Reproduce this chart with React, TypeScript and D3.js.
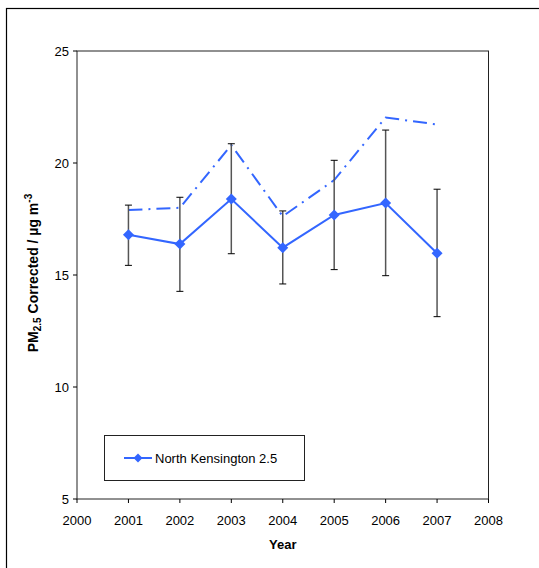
import React from "react";
import * as d3 from "d3";

const years = [2001, 2002, 2003, 2004, 2005, 2006, 2007];
const pm25 = [16.8, 16.38, 18.39, 16.22, 17.68, 18.21, 15.97];
const errHigh = [18.12, 18.47, 20.86, 17.86, 20.12, 21.47, 18.83];
const errLow = [15.43, 14.27, 15.95, 14.6, 15.24, 14.97, 13.14];
const dashed = [17.9, 18.0, 20.8, 17.62, 19.24, 22.03, 21.72];
const xTicks = [2000, 2001, 2002, 2003, 2004, 2005, 2006, 2007, 2008];
const yTicks = [5, 10, 15, 20, 25];
const seriesName = "North Kensington 2.5";

const W = 539;
const H = 568;
const left = 77;
const right = 488.5;
const top = 51;
const bottom = 499;
const blue = "#3366FF";
const font = "Liberation Sans, Arial, sans-serif";

function diamondPath(r: number) {
  const p = d3.path();
  p.moveTo(0, -r);
  p.lineTo(r, 0);
  p.lineTo(0, r);
  p.lineTo(-r, 0);
  p.closePath();
  return p.toString();
}

export default function App() {
  const x = d3.scaleLinear().domain([2000, 2008]).range([left, right]);
  const y = d3.scaleLinear().domain([5, 25]).range([bottom, top]);
  const line = d3
    .line<number>()
    .x((_, i) => x(years[i]))
    .y((d) => y(d));
  const diamond = diamondPath(5.5);

  return (
    <svg
      width={W}
      height={H}
      style={{ position: "absolute", left: 0, top: 0, fontFamily: font }}
    >
      <rect x={0} y={0} width={W} height={H} fill="#fff" />
      <rect x={6.5} y={8.5} width={W + 10} height={H + 10} fill="none" stroke="#000" strokeWidth={1.2} />
      <rect x={left} y={top} width={right - left} height={bottom - top} fill="none" stroke="#222" strokeWidth={1} />

      {/* y ticks */}
      {yTicks.map((t) => (
        <g key={"y" + t}>
          <line x1={left - 4} x2={left} y1={y(t)} y2={y(t)} stroke="#000" />
          <text x={left - 8} y={y(t)} dy="0.35em" textAnchor="end" fontSize={13}>
            {t}
          </text>
        </g>
      ))}
      {/* x ticks */}
      {xTicks.map((t) => (
        <g key={"x" + t}>
          <line x1={x(t)} x2={x(t)} y1={bottom} y2={bottom + 4} stroke="#000" />
          <text x={x(t)} y={bottom + 21} dy="0.35em" textAnchor="middle" fontSize={13}>
            {t}
          </text>
        </g>
      ))}

      <text x={(left + right) / 2} y={544} dy="0.35em" textAnchor="middle" fontSize={13} fontWeight="bold">
        Year
      </text>
      <text
        transform={`translate(33, ${(top + bottom) / 2 - 2}) rotate(-90)`}
        textAnchor="middle"
        dy="0.35em"
        fontSize={14}
        fontWeight="bold"
      >
        PM<tspan fontSize={10} dy="3">2.5</tspan>
        <tspan dy="-3"> Corrected / µg m</tspan>
        <tspan fontSize={10} dy="-6">-3</tspan>
      </text>

      {/* dash-dot line */}
      <path
        d={line(dashed) || ""}
        fill="none"
        stroke={blue}
        strokeWidth={2}
        strokeDasharray="14 6 2 6"
      />

      {/* error bars */}
      {years.map((yr, i) => (
        <g key={"e" + yr}>
          <line x1={x(yr)} x2={x(yr)} y1={y(errHigh[i])} y2={y(errLow[i])} stroke="#555" strokeWidth={1.5} />
          <line x1={x(yr) - 3.5} x2={x(yr) + 3.5} y1={y(errHigh[i])} y2={y(errHigh[i])} stroke="#000" strokeWidth={1} />
          <line x1={x(yr) - 3.5} x2={x(yr) + 3.5} y1={y(errLow[i])} y2={y(errLow[i])} stroke="#000" strokeWidth={1} />
        </g>
      ))}

      {/* solid series */}
      <path d={line(pm25) || ""} fill="none" stroke={blue} strokeWidth={2} />
      {years.map((yr, i) => (
        <path key={"m" + yr} d={diamond} transform={`translate(${x(yr)},${y(pm25[i])})`} fill={blue} />
      ))}

      {/* legend */}
      <rect x={104.5} y={435.5} width={200} height={45} fill="#fff" stroke="#222" strokeWidth={1} />
      <line x1={124} x2={152} y1={458} y2={458} stroke={blue} strokeWidth={2} />
      <path d={diamondPath(4.5)} transform="translate(138,458)" fill={blue} />
      <text x={155} y={458} dy="0.35em" fontSize={13}>
        {seriesName}
      </text>
    </svg>
  );
}
